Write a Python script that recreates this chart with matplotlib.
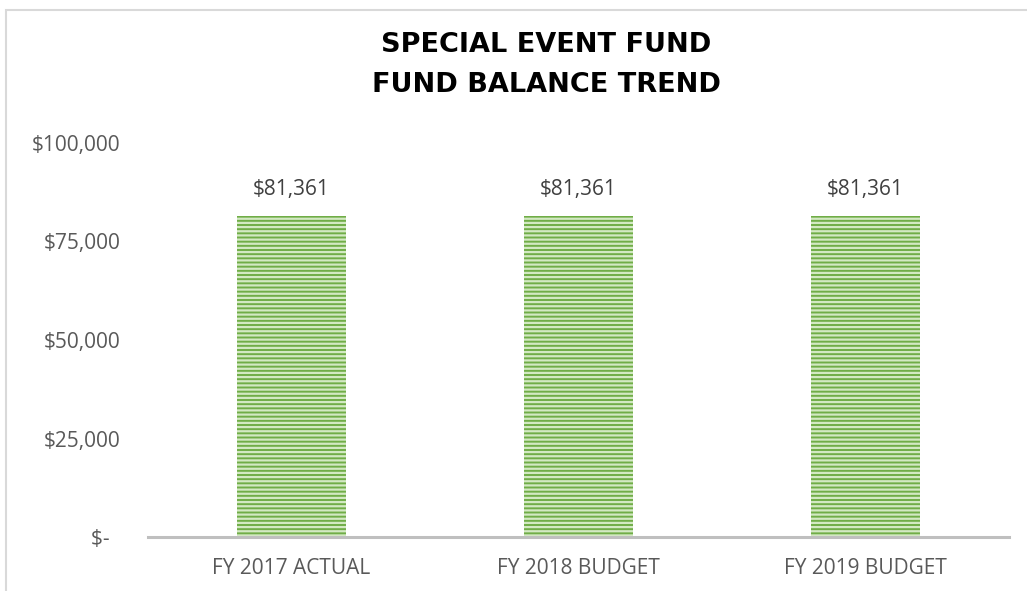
import matplotlib
matplotlib.use("Agg")
import matplotlib.pyplot as plt
from matplotlib.patches import Rectangle

categories = ["FY 2017 ACTUAL", "FY 2018 BUDGET", "FY 2019 BUDGET"]
values = [81361, 81361, 81361]
ytick_values = [0, 25000, 50000, 75000, 100000]
ytick_labels = ["$-  ", "$25,000", "$50,000", "$75,000", "$100,000"]
title_lines = ["SPECIAL EVENT FUND", "FUND BALANCE TREND"]

W, H = 1027, 591
fig = plt.figure(figsize=(W / 100, H / 100), dpi=100)
plt.rcParams['font.family'] = ['Open Sans', 'DejaVu Sans']
plt.rcParams['hatch.linewidth'] = 1.6
plt.rcParams['hatch.color'] = '#d3e9c3'

# chart border
fig.patches.append(Rectangle((6 / W, -0.1), 1.2, (1 - 10 / H) + 0.1, transform=fig.transFigure,
                             fill=False, edgecolor='#d9d9d9', linewidth=1.5))

ax = fig.add_axes([148 / W, 1 - 537 / H, (1009 - 148) / W, (537 - 143) / H])
x = range(len(categories))
bars = ax.bar(x, values, width=0.383, color='#70ad47', edgecolor='#d3e9c3', linewidth=0,
              hatch='----')
ax.set_xlim(-0.5, len(categories) - 0.5)
ax.set_ylim(0, 100000)
ax.set_yticks(ytick_values)
ax.set_yticklabels(ytick_labels)
ax.set_xticks(list(x))
ax.set_xticklabels(categories)
for s in ['top', 'right', 'left']:
    ax.spines[s].set_visible(False)
ax.spines['bottom'].set_color('#bfbfbf')
ax.spines['bottom'].set_linewidth(2.2)
ax.tick_params(axis='both', length=0, labelsize=15, labelcolor='#595959')
ax.tick_params(axis='y', pad=20)
ax.tick_params(axis='x', pad=15)

for xi, v in zip(x, values):
    ax.annotate(f"${v:,}", (xi, v), xytext=(0, 16), textcoords='offset pixels',
                ha='center', va='bottom', fontsize=15, color='#404040')

for i, (line, yc) in enumerate(zip(title_lines, [45, 85])):
    fig.text(546 / W, 1 - yc / H, line, ha='center', va='center',
             fontsize=19.5, fontweight='bold', color='#000000', family='DejaVu Sans')

fig.savefig("out.png", dpi=100)
